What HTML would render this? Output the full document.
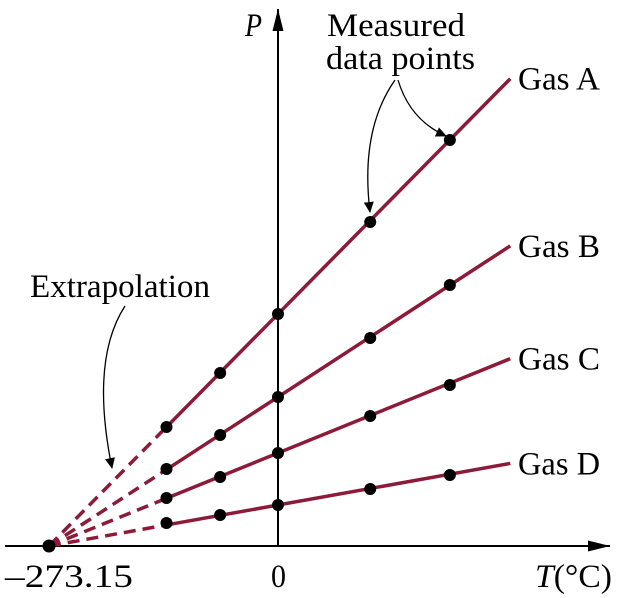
<!DOCTYPE html>
<html><head><meta charset="utf-8"><style>
body{margin:0;background:#fff}
svg{display:block;font-family:"Liberation Serif","Times New Roman",serif}
</style></head><body>
<svg width="620" height="598" viewBox="0 0 620 598">
<defs>
<marker id="ah" markerWidth="24" markerHeight="14" refX="22" refY="7" orient="auto" markerUnits="userSpaceOnUse"><path d="M0,1.5 L22,7 L0,12.5 Z" fill="#000"/></marker>
<marker id="ah2" markerWidth="12" markerHeight="12" refX="10" refY="6" orient="auto" markerUnits="userSpaceOnUse"><path d="M0,1 L11,6 L0,11 Z" fill="#000"/></marker>
</defs>
<g id="axes"></g>
<g id="series"></g>
<g id="annot"></g>
</svg>
<script>
const gasNames = ["Gas A","Gas B","Gas C","Gas D"];
const p0Values = [2.32, 1.49, 0.93, 0.41];
const measuredT = [-133, -69, 0, 110, 205];
const gasA = [1.19, 1.73, 2.32, 3.24, 4.06];
const gasB = [0.77, 1.11, 1.49, 2.08, 2.61];
const gasC = [0.48, 0.69, 0.93, 1.30, 1.61];
const gasD = [0.23, 0.31, 0.41, 0.57, 0.71];
const absZero = -273.15;
const tEnd = 277;

const NS="http://www.w3.org/2000/svg";
const col="#8c1a38";
function xS(t){return 278+(t)*229/273.15;}
function yS(p){return 546-p*100;}
function mk(tag,attrs,parent,text){const e=document.createElementNS(NS,tag);for(const k in attrs)e.setAttribute(k,attrs[k]);if(text!==undefined)e.textContent=text;parent.appendChild(e);return e;}
const axes=document.getElementById('axes'),series=document.getElementById('series'),annot=document.getElementById('annot');

let xa=mk('line',{x1:5,y1:546,x2:610,y2:546,stroke:'#000','stroke-width':2,'marker-end':'url(#ah)'},axes);


let ya=mk('line',{x1:278,y1:546,x2:278,y2:9,stroke:'#000','stroke-width':2,'marker-end':'url(#ah)'},axes);



const allData=[gasA,gasB,gasC,gasD];
const firstT=measuredT[0];
gasNames.forEach((name,i)=>{
  const p0=p0Values[i];
  const pAt=t=>p0*(t-absZero)/(-absZero);
  const g=mk('g',{},series);
  
  
  const d=mk('line',{x1:xS(absZero),y1:yS(0),x2:xS(firstT),y2:yS(pAt(firstT)),stroke:col,'stroke-width':3.5,'stroke-dasharray':'12,7'},g);
  
  
  const s=mk('line',{x1:xS(firstT),y1:yS(pAt(firstT)),x2:xS(tEnd),y2:yS(pAt(tEnd)),stroke:col,'stroke-width':3.5},g);
  
  
  allData[i].forEach((p,j)=>{
    const c=mk('circle',{cx:xS(measuredT[j]),cy:yS(p),r:6,fill:'#000'},g);
    
    
  });
  const l=mk('text',{x:518,y:yS(pAt(tEnd))+11,'font-size':33,textLength:82,lengthAdjust:'spacingAndGlyphs'},g,name);
  
  
});
const z=mk('circle',{cx:xS(absZero),cy:yS(0),r:6.5,fill:'#000'},series);



function txt(x,y,s,name,w,extra){const a=Object.assign({x:x,y:y,'font-size':33},extra||{});if(w){a.textLength=w;a.lengthAdjust='spacingAndGlyphs';}const t=mk('text',a,annot,s);return t;}
txt(5,587,'\u2013273.15','x-tick-absolute-zero',128);
txt(271,587,'0','x-tick-zero',15);
const tl=txt(535,587,'','x-axis-title',77);
mk('tspan',{'font-style':'italic'},tl,'T');mk('tspan',{},tl,'(\u00B0C)');
txt(245,36,'P','y-axis-title',17,{'font-style':'italic'});
txt(327,36,'Measured','annotation-measured',138);
txt(326,69,'data points','annotation-data-points',149);
txt(30,297,'Extrapolation','annotation-extrapolation',180);

function arr(d,name){const p=mk('path',{d:d,fill:'none',stroke:'#000','stroke-width':1.3,'marker-end':'url(#ah2)'},annot);}
arr('M395,80 Q360,130 370,212','arrow-to-point-1');
arr('M398,80 Q410,120 446,136','arrow-to-point-2');
arr('M125,306 Q90,360 112,468','arrow-extrapolation');
</script>
</body></html>
